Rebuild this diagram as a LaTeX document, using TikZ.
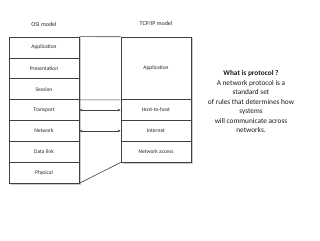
\documentclass[tikz,border=0pt]{standalone}
\usepackage{fontspec}
\setmainfont{Carlito}
\usetikzlibrary{shadows,arrows.meta}
\tikzset{
  cell/.style={draw=black!75, line width=0.6pt, minimum width=70pt, inner sep=0pt, font=\fontsize{5.5}{6}\selectfont, text=black!85, fill=white},
  osicell/.style={cell, minimum height=20.86pt},
  lnk/.style={draw=black!75, line width=0.6pt},
  arr/.style={lnk, {Stealth[length=3pt,width=2.5pt]}-{Stealth[length=3pt,width=2.5pt]}},
  title/.style={font=\fontsize{6}{7}\selectfont, text=black!85},
}
\begin{document}
\begin{tikzpicture}[x=1pt,y=-1pt]
\useasboundingbox (0,0) rectangle (320,240);
\fill[black!20] (10.5,38.5) rectangle (80.5,184.5);
\fill[black!20] (122.5,38.5) rectangle (192.5,163.5);
\node[osicell] (app) at (44,47.43) {Application};
\node[osicell] (pres) at (44,68.29) {Presentation};
\node[osicell] (sess) at (44,89.14) {Session};
\node[osicell] (trans) at (44,110) {Transport};
\node[osicell] (net) at (44,130.86) {Network};
\node[osicell] (dl) at (44,151.71) {Data link};
\node[osicell] (phys) at (44,172.57) {Physical};
\node[cell, minimum height=62.57pt] (tapp) at (156,68.29) {Application};
\node[osicell] (host) at (156,110) {Host-to-host};
\node[osicell] (inet) at (156,130.86) {Internet};
\node[osicell] (nacc) at (156,151.71) {Network access};
\node[title] (osit) at (44,24) {OSI model};
\node[title] (tcpt) at (156,24) {TCP/IP model};
\draw[lnk] (app.north east) -- (tapp.north west);
\draw[lnk] (sess.south east) -- (tapp.south west);
\draw[lnk] (phys.south east) -- (nacc.south west);
\draw[arr] (trans.east) -- (host.west);
\draw[arr] (net.east) -- (inet.west);
\node[align=center, font=\fontsize{7.3}{9.5}\selectfont, text=black!90] (txt) at (251,101.5)
 {\textbf{What is protocol ?}\\A network protocol is a\\standard set\\of rules that determines how\\systems\\will communicate across\\networks.};
\end{tikzpicture}
\end{document}
